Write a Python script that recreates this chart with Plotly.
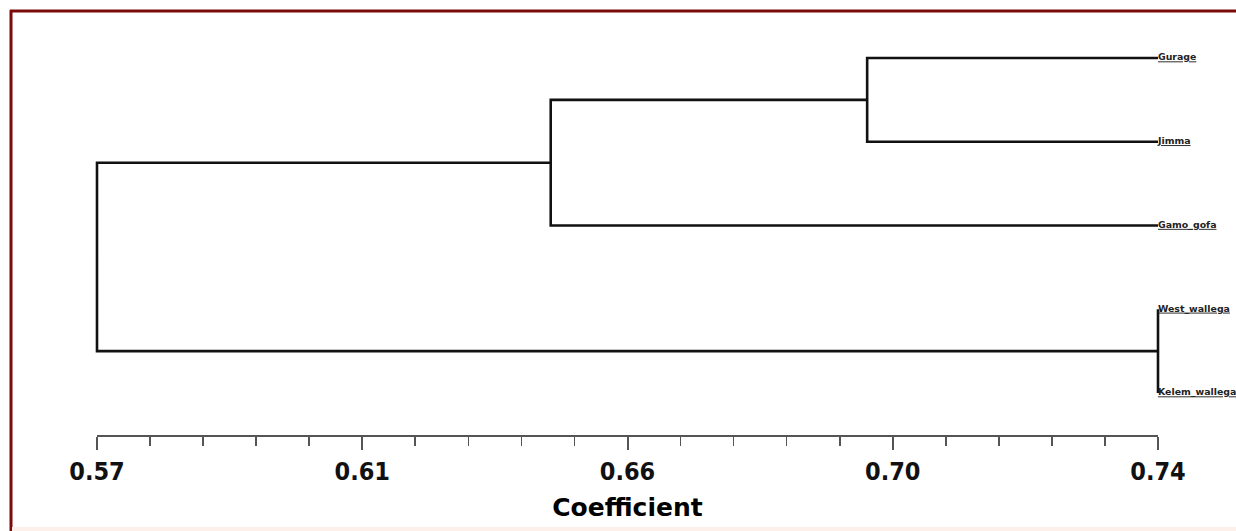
import plotly.graph_objects as go

# ---- data ----
leaves = ["Gurage", "Jimma", "Gamo_gofa", "West_wallega", "Kelem_wallega"]
leaf_height = 0.74
# merges: (cluster a, cluster b, similarity coefficient); new cluster ids start at len(leaves)
merge_a = [0, 5, 3, 6]
merge_b = [1, 2, 4, 7]
merge_h = [0.6934, 0.6427, 0.74, 0.57]
tick_vals = [0.57, 0.6125, 0.655, 0.6975, 0.74]
tick_text = ["0.57", "0.61", "0.66", "0.70", "0.74"]
minor_step = 0.0085
axis_title = "Coefficient"

# ---- layout constants (pixels; page body margin is removed below) ----
W, H = 1236, 531
x_left_px, x_right_px = 97, 1158
y_top_px, y_bot_px = 58, 393
axis_y_px = 436
lo, hi = min(tick_vals), max(tick_vals)
sx = (x_right_px - x_left_px) / (hi - lo)
x_range = [lo - x_left_px / sx, hi + (W - x_right_px) / sx]
n = len(leaves)
sy = (y_bot_px - y_top_px) / (n - 1)
pad = 0.5
y_dom = [1 - (y_bot_px + pad * sy) / H, 1 - (y_top_px - pad * sy) / H]
y_range = [n - 1 + pad, -pad]

# ---- build dendrogram coordinates ----
pos = {i: (leaf_height, float(i)) for i in range(n)}
xs, ys = [], []
for k, (a, b, h) in enumerate(zip(merge_a, merge_b, merge_h)):
    ha, ya = pos[a]
    hb, yb = pos[b]
    xs += [ha, h, h, hb, None]
    ys += [ya, ya, yb, yb, None]
    pos[n + k] = (h, (ya + yb) / 2)

fig = go.Figure()
fig.add_trace(go.Scatter(x=xs, y=ys, mode="lines",
                         line=dict(color="#111111", width=2.6),
                         hoverinfo="skip", showlegend=False, cliponaxis=False))
fig.add_trace(go.Scatter(x=[leaf_height] * n, y=list(range(n)), mode="text",
                         text=leaves, textposition="middle right",
                         textfont=dict(family="DejaVu Sans", size=9.4, color="#222222",
                                       weight="bold", lineposition="under"),
                         hoverinfo="skip", showlegend=False, cliponaxis=False))
# invisible trace carrying the visible coefficient axis
fig.add_trace(go.Scatter(x=tick_vals, y=[0] * len(tick_vals), xaxis="x2", yaxis="y",
                         mode="markers", marker=dict(opacity=0), hoverinfo="skip",
                         showlegend=False))

fig.update_layout(
    width=W, height=H,
    margin=dict(l=0, r=0, t=0, b=0, pad=0, autoexpand=False),
    showlegend=False,
    paper_bgcolor="white", plot_bgcolor="rgba(0,0,0,0)",
    xaxis=dict(range=x_range, domain=[0, 1], visible=False, fixedrange=True, automargin=False),
    yaxis=dict(range=y_range, domain=y_dom, visible=False, fixedrange=True, automargin=False),
    xaxis2=dict(range=[lo, hi], domain=[x_left_px / W, x_right_px / W],
                anchor="free", position=1 - axis_y_px / H, automargin=False,
                showline=True, linecolor="#555555", linewidth=2,
                showgrid=False, zeroline=False,
                tickmode="array", tickvals=tick_vals, ticktext=tick_text,
                ticks="outside", ticklen=13, tickwidth=2, tickcolor="#555555",
                tickfont=dict(family="DejaVu Sans Condensed, DejaVu Sans", size=25,
                              color="#111111", weight="bold"),
                minor=dict(ticks="outside", ticklen=9, tickwidth=1.6, tickcolor="#555555",
                           tickmode="linear", tick0=lo, dtick=minor_step, showgrid=False),
                title=dict(text=axis_title, standoff=12,
                           font=dict(family="DejaVu Sans", size=25, color="#000000",
                                     weight="bold"))),
    shapes=[
        dict(type="line", xref="paper", yref="paper", x0=10 / W, x1=1, y0=1 - 11 / H, y1=1 - 11 / H,
             line=dict(color="#7d0a0a", width=3)),
        dict(type="line", xref="paper", yref="paper", x0=11 / W, x1=11 / W, y0=0, y1=1 - 10 / H,
             line=dict(color="#7d0a0a", width=3)),
        dict(type="rect", xref="paper", yref="paper", x0=12 / W, x1=1, y0=0, y1=4 / H,
             line=dict(width=0), fillcolor="#fdf0ea"),
    ],
)

fig.write_html("out.html", config={"displayModeBar": False, "staticPlot": True},
               post_script="document.body.style.margin='0';document.body.style.overflow='hidden';")
